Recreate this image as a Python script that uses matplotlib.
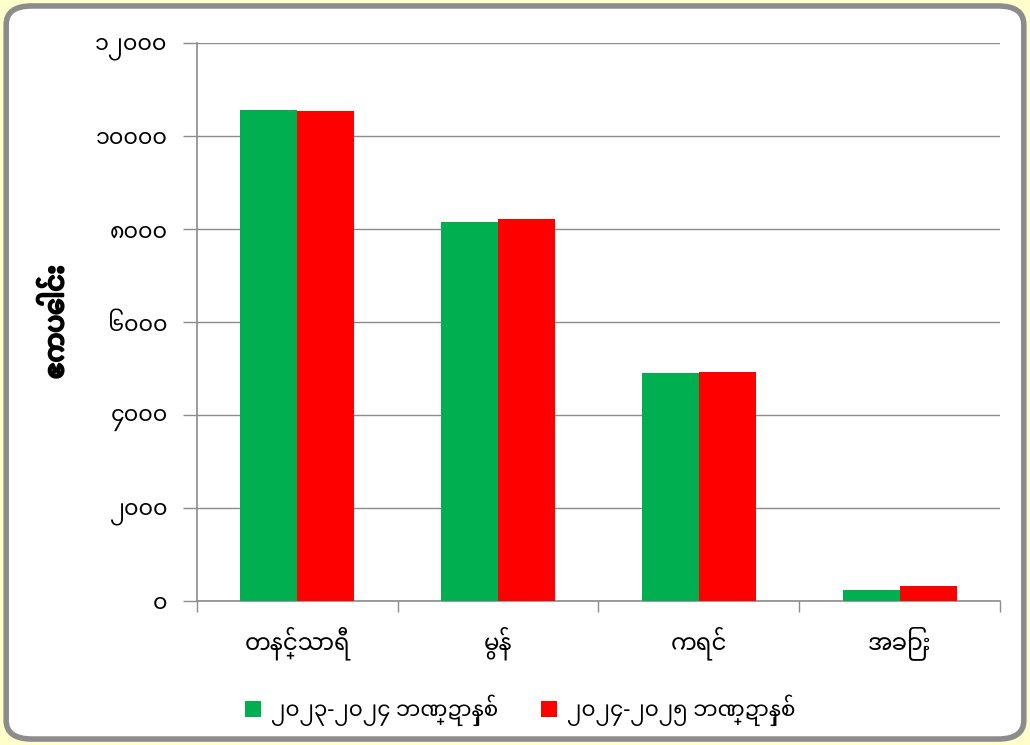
import numpy as np
import matplotlib
matplotlib.use("Agg")
import matplotlib.pyplot as plt
import matplotlib.patheffects as pe
from matplotlib import font_manager
from matplotlib.ft2font import FT2Font
from matplotlib.patches import FancyBboxPatch

# data
regions = ["တနင်္သာရီ", "မွန်", "ကရင်", "အခြား"]
fy_2023 = [10560, 8150, 4900, 240]
fy_2024 = [10540, 8210, 4920, 320]
series_names = ["၂၀၂၃-၂၀၂၄ ဘဏ္ဍာနှစ်", "၂၀၂၄-၂၀၂၅ ဘဏ္ဍာနှစ်"]
y_ticks = [0, 2000, 4000, 6000, 8000, 10000, 12000]
y_tick_labels = ["၀", "၂၀၀၀", "၄၀၀၀", "၆၀၀၀", "၈၀၀၀", "၁၀၀၀၀", "၁၂၀၀၀"]
y_label = "ဧကပေါင်း"


# look for an installed font that actually has Myanmar glyphs
def find_myanmar_font():
    found = []
    for f in font_manager.fontManager.ttflist:
        try:
            cmap = FT2Font(f.fname).get_charmap()
        except Exception:
            continue
        if 0x1000 in cmap and 0x1040 in cmap:
            found.append(f.name)
    for pref in ["Noto Sans Myanmar", "Myanmar Text", "Padauk", "Pyidaungsu"]:
        if pref in found:
            return pref
    return found[0] if found else None


mm_font = find_myanmar_font()
families = [mm_font, "DejaVu Sans"] if mm_font else ["DejaVu Sans"]
plt.rcParams["font.family"] = families

fig = plt.figure(figsize=(10.3, 7.45), dpi=100, facecolor="#FFFFCC")

# rounded white panel with grey border, kept behind the axes
panel = FancyBboxPatch((0.006, 0.008), 0.988, 0.984,
                       boxstyle="round,pad=0,rounding_size=0.025",
                       transform=fig.transFigure, facecolor="white",
                       edgecolor="#8C8C8C", linewidth=4, zorder=-5)
fig.patches.append(panel)

ax = fig.add_axes([0.191, 0.193, 0.780, 0.749])
ax.set_facecolor("none")

x = np.arange(len(regions))
w = 0.284
ax.bar(x - w / 2, fy_2023, w, color="#00B050", label=series_names[0], zorder=3)
ax.bar(x + w / 2, fy_2024, w, color="#FF0000", label=series_names[1], zorder=3)

ax.set_xlim(-0.5, len(regions) - 0.5)
ax.set_ylim(0, 12000)

ax.set_yticks(y_ticks)
ax.set_yticklabels(y_tick_labels, fontsize=16)
ax.tick_params(axis="y", length=10, width=1, color="#8C8C8C", pad=11)
ax.yaxis.grid(True, color="#8C8C8C", linewidth=1, zorder=0)
ax.set_axisbelow(True)

ax.set_xticks(x)
ax.set_xticklabels(regions, fontsize=16.5)
ax.tick_params(axis="x", length=0, pad=18)
ax.set_xticks(np.arange(len(regions) + 1) - 0.5, minor=True)
ax.tick_params(axis="x", which="minor", length=8, width=1, color="#8C8C8C")

for side in ["top", "right"]:
    ax.spines[side].set_visible(False)
for side in ["left", "bottom"]:
    ax.spines[side].set_color("#8C8C8C")
    ax.spines[side].set_linewidth(1.2)

# the Myanmar font has no bold face, so thicken the label with a stroke
ylab = ax.set_ylabel(y_label, fontsize=19, fontweight="bold", labelpad=18)
ylab.set_path_effects([pe.withStroke(linewidth=1.6, foreground="black")])

fig.legend(loc="center", bbox_to_anchor=(0.505, 0.046), ncol=2, frameon=False,
           fontsize=15.5, handlelength=0.75, handleheight=0.75,
           columnspacing=2.0, handletextpad=0.45)

fig.savefig("out.png", dpi=100, facecolor=fig.get_facecolor())
